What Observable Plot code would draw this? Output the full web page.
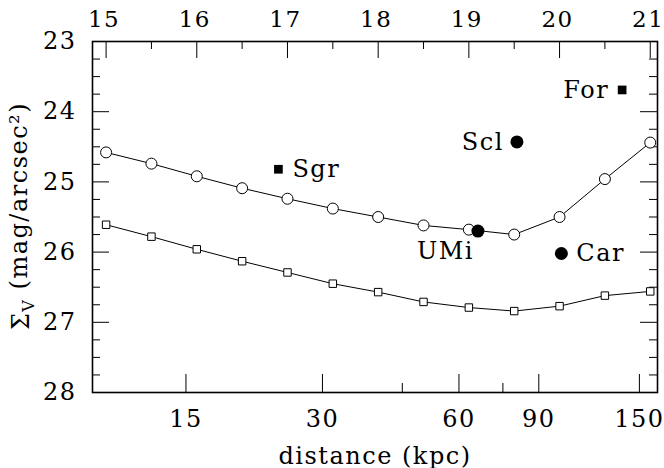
<!DOCTYPE html>
<html><head><meta charset="utf-8">
<script src="https://cdn.jsdelivr.net/npm/d3@7"></script>
<script src="https://cdn.jsdelivr.net/npm/@observablehq/plot@0.6"></script>
<style>
body{margin:0;background:#fff}
#chart svg{display:block}
</style>
</head><body><div id="chart"></div>
<script>
// distance modulus grid (top axis) and model surface-brightness curves
const modulus   = [15, 15.5, 16, 16.5, 17, 17.5, 18, 18.5, 19, 19.5, 20, 20.5, 21];
const sbCircles = [24.58, 24.74, 24.92, 25.09, 25.24, 25.38, 25.50, 25.62, 25.68, 25.75, 25.50, 24.96, 24.44];
const sbSquares = [25.61, 25.78, 25.96, 26.13, 26.29, 26.45, 26.57, 26.71, 26.79, 26.84, 26.77, 26.62, 26.56];

// dwarf galaxies
const galaxyNames   = ["Sgr", "Scl", "For", "UMi", "Car"];
const galaxyModulus = [16.90, 19.53, 20.69, 19.10, 20.02];
const galaxySB      = [24.82, 24.43, 23.69, 25.70, 26.02];
const galaxySymbol  = ["square", "circle", "square", "circle", "circle"];

// ticks
const topTicks = [15, 16, 17, 18, 19, 20, 21];
const topMinorTicks = [15.5, 16.5, 17.5, 18.5, 19.5, 20.5];
const distanceTicks = [15, 30, 60, 90, 150];
const distanceMinorTicks = [45, 75];
const yTicks = [23, 24, 25, 26, 27, 28];
const yMinorTicks = [23.25, 23.5, 23.75, 24.25, 24.5, 24.75, 25.25, 25.5, 25.75,
                     26.25, 26.5, 26.75, 27.25, 27.5, 27.75];

const mu = d => 5 * Math.log10(d) + 10;   // kpc -> distance modulus

const curves = modulus.map((m, i) => ({m, c: sbCircles[i], s: sbSquares[i]}));
const galaxies = galaxyNames.map((name, i) => ({name, m: galaxyModulus[i], sb: galaxySB[i], symbol: galaxySymbol[i]}));

const W = 664, H = 468, mL = 92, mR = 7, mT = 41, mB = 76;
const pw = W - mL - mR, ph = H - mT - mB;
const FONT = "'DejaVu Serif', serif";
const FS = 24;

const label = (name, opts) => Plot.text(galaxies, {filter: d => d.name === name, x: "m", y: "sb", text: "name", fontSize: FS, ...opts});

const chart = Plot.plot({
  width: W, height: H,
  marginLeft: mL, marginRight: mR, marginTop: mT, marginBottom: mB,
  style: {fontFamily: FONT, fontSize: FS + "px", letterSpacing: "1.5px", background: "#fff", color: "#000"},
  x: {domain: [14.85, 21.08]},
  y: {domain: [23, 28], reverse: true},
  marks: [
    // inside ticks
    Plot.tickY(yTicks, {y: d => d, insetRight: pw - 17, stroke: "#000"}),
    Plot.tickY(yMinorTicks, {y: d => d, insetRight: pw - 8, stroke: "#000"}),
    Plot.tickY(yTicks, {y: d => d, insetLeft: pw - 17, stroke: "#000"}),
    Plot.tickY(yMinorTicks, {y: d => d, insetLeft: pw - 8, stroke: "#000"}),
    Plot.tickX(topTicks, {x: d => d, insetBottom: ph - 17, stroke: "#000"}),
    Plot.tickX(topMinorTicks, {x: d => d, insetBottom: ph - 8, stroke: "#000"}),
    Plot.tickX(distanceTicks, {x: d => mu(d), insetTop: ph - 18, stroke: "#000"}),
    Plot.tickX(distanceMinorTicks, {x: d => mu(d), insetTop: ph - 9, stroke: "#000"}),
    Plot.frame({stroke: "#000", strokeWidth: 1.6}),
    // tick labels
    Plot.axisY({ticks: yTicks, tickSize: 0, tickPadding: 16, tickFormat: d3.format("d"), label: null, fontSize: FS}),
    Plot.axisX({anchor: "top", ticks: topTicks, tickSize: 0, tickPadding: 15, tickFormat: d3.format("d"), label: null, fontSize: 23, dx: -2}),
    Plot.axisX({anchor: "bottom", ticks: distanceTicks.map(mu), tickSize: 0, tickPadding: 17,
                tickFormat: v => String(Math.round(10 ** ((v - 10) / 5))), fontSize: FS,
                label: "distance (kpc)", labelAnchor: "center", labelArrow: "none", labelOffset: 71}),
    // curves
    Plot.line(curves, {x: "m", y: "c", stroke: "#000", strokeWidth: 1}),
    Plot.line(curves, {x: "m", y: "s", stroke: "#000", strokeWidth: 1}),
    Plot.dot(curves, {x: "m", y: "c", r: 5.5, fill: "#fff", stroke: "#000", strokeWidth: 1}),
    Plot.dot(curves, {x: "m", y: "s", symbol: "square", r: 4.2, fill: "#fff", stroke: "#000", strokeWidth: 1}),
    // galaxies
    Plot.dot(galaxies, {filter: d => d.symbol === "circle", x: "m", y: "sb", r: 6.5, fill: "#000"}),
    Plot.dot(galaxies, {filter: d => d.symbol === "square", x: "m", y: "sb", symbol: "square", r: 4.9, fill: "#000"}),
    label("Sgr", {textAnchor: "start", dx: 14}),
    label("Scl", {textAnchor: "end", dx: -13}),
    label("For", {textAnchor: "end", dx: -13}),
    label("UMi", {textAnchor: "end", dx: -4, dy: 20}),
    label("Car", {textAnchor: "start", dx: 15})
  ]
});

document.getElementById("chart").appendChild(chart);

// y-axis title with subscript
const svg = d3.select(chart);
const t = svg.append("text")
  .attr("transform", "translate(21,216) rotate(-90)")
  .attr("text-anchor", "middle")
  .attr("dy", "0.35em")
  .attr("font-size", FS)
  .attr("font-family", FONT)
  .attr("fill", "#000");
t.append("tspan").text("Σ");
t.append("tspan").attr("font-size", 16).attr("dy", "0.3em").text("V");
t.append("tspan").attr("dy", "-0.3em").text(" (mag/arcsec²)");
</script>
</body></html>
